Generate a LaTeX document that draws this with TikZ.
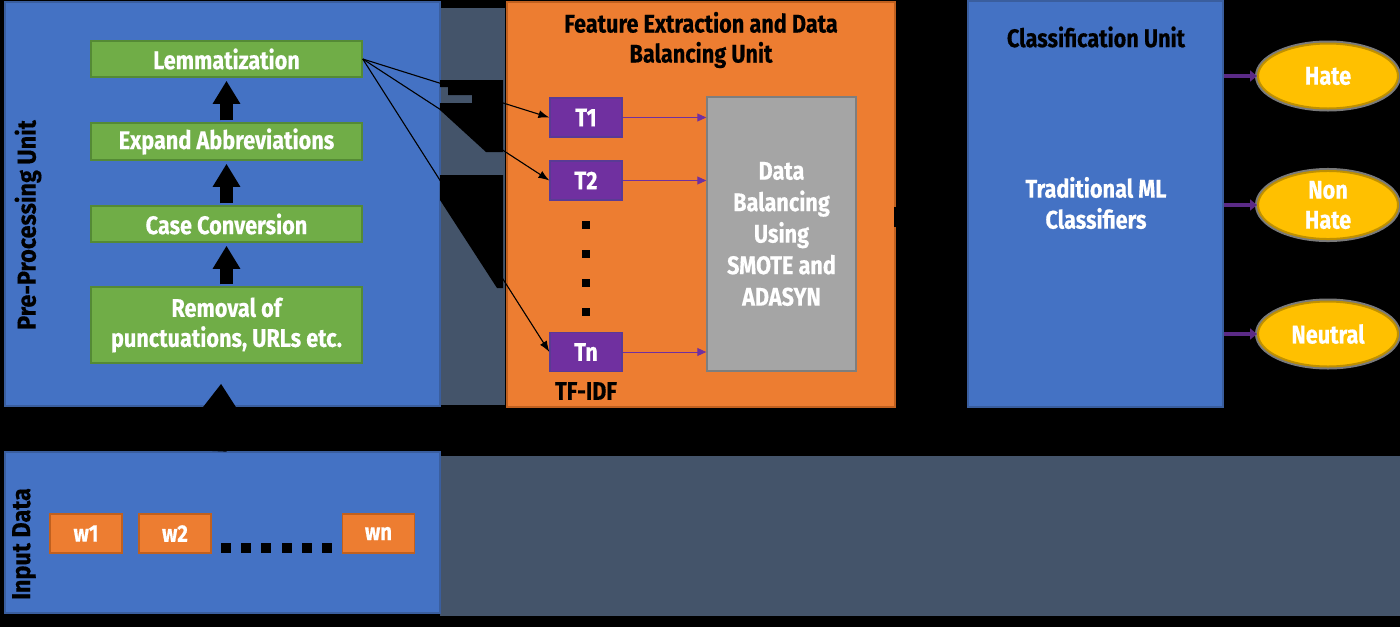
\documentclass[tikz,border=0pt]{standalone}
\usepackage{fontspec}
\setmainfont{Fira Sans}[FakeStretch=0.85, BoldFeatures={FakeBold=0.4}]
\newfontfamily\widefam{Fira Sans}[FakeStretch=0.9, BoldFeatures={FakeBold=0.4}]
\usetikzlibrary{arrows.meta,shapes.geometric,calc}
\definecolor{cblue}{HTML}{4472C4}
\definecolor{cblueb}{HTML}{3A5E9E}
\definecolor{cgreen}{HTML}{70AD47}
\definecolor{cgreenb}{HTML}{548A35}
\definecolor{corange}{HTML}{ED7D31}
\definecolor{coranb}{HTML}{C0601F}
\definecolor{cpurple}{HTML}{7030A0}
\definecolor{cpurpb}{HTML}{5A3A95}
\definecolor{cgray}{HTML}{A5A5A5}
\definecolor{cgrayb}{HTML}{7E7E7E}
\definecolor{cgold}{HTML}{FFC000}
\definecolor{cgoldb}{HTML}{BF9000}
\definecolor{cslate}{HTML}{44546A}
\definecolor{chalo}{HTML}{7A7A7A}
\definecolor{cdpurp}{HTML}{5B2A86}
\begin{document}
\begin{tikzpicture}[x=1pt,y=-1pt,
  lab/.style={font=\fontsize{25.5}{30}\selectfont\bfseries, inner sep=0pt},
  sidelab/.style={font=\widefam\fontsize{26}{30}\selectfont\bfseries, inner sep=0pt, rotate=90},
  ubox/.style={draw=cblueb, line width=1.5pt, fill=cblue, inner sep=0pt},
  obox/.style={draw=coranb, line width=1.5pt, fill=corange, inner sep=0pt},
  gbox/.style={draw=cgreenb, line width=1.5pt, fill=cgreen, text=white, minimum width=271, inner sep=0pt, align=center, font=\fontsize{25.5}{30}\selectfont\bfseries},
  wbox/.style={draw=coranb, line width=1.2pt, fill=corange, text=white, minimum width=72, minimum height=39, inner sep=0pt, font=\fontsize{24}{28}\selectfont\bfseries},
  tbox/.style={draw=cpurpb, line width=1.2pt, fill=cpurple, text=white, minimum width=72, minimum height=39, inner sep=0pt, font=\fontsize{25.5}{30}\selectfont\bfseries},
  graybox/.style={draw=cgrayb, line width=1.5pt, fill=cgray, text=white, inner sep=0pt, align=center, font=\fontsize{25.5}{31.5}\selectfont\bfseries},
  ell/.style={ellipse, draw=cgoldb, line width=2pt, fill=cgold, text=white, inner sep=0pt, align=center, minimum width=140, minimum height=65, font=\fontsize{25.5}{30}\selectfont\bfseries, preaction={draw=chalo, line width=6pt}},
  sqdot/.style={fill=black, inner sep=0pt},
  bigarr/.style={line width=13pt, -{Triangle[length=23pt,width=26pt]}, shorten <=2pt, shorten >=3pt},
  hugearr/.style={line width=17pt, -{Triangle[length=24pt,width=32pt]}},
  thinarr/.style={line width=1.1pt, -{Latex[length=11pt,width=8pt]}},
  parr/.style={draw=cpurple, line width=1pt, -{Triangle[length=9pt,width=8pt]}},
  fparr/.style={draw=cdpurp, line width=4.5pt, -{Triangle[length=7pt,width=11pt]}},
  blackbar/.style={draw=black, line width=20pt}
]
\useasboundingbox (0,0) rectangle (1400,627);
\fill[black] (0,0) rectangle (1400,627);
\fill[cslate] (440,8) rectangle (505,405);
\fill[cslate] (440,456) rectangle (1400,616);

% units
\node[ubox, minimum width=435, minimum height=404] (pre) at (222.5,204) {};
\node[ubox, minimum width=435, minimum height=161] (inp) at (222.5,532.5) {};
\node[obox, minimum width=388, minimum height=405] (fe) at (701,204.5) {};
\node[ubox, minimum width=255, minimum height=406] (cls) at (1095.5,204) {};

% artefact wedges in the gap
\fill[black] (440,80) -- (503,80) -- (503,152) -- (486,152) -- (440,110) -- (440,103) -- (472,103) -- (472,95) -- (448,95) -- (448,87) -- (440,87) -- cycle;
\fill[black] (440,175) -- (503,175) -- (503,288) -- (497,288) -- (440,200) -- cycle;

% pre-processing
\node[sidelab] (prel) at (28,225) {Pre-Processing Unit};
\node[gbox, minimum height=36] (lem) at (226.5,59) {Lemmatization};
\node[gbox, minimum height=37] (exp) at (226.5,141.5) {Expand Abbreviations};
\node[gbox, minimum height=36] (case) at (226.5,224) {Case Conversion};
\node[gbox, minimum height=76] (rem) at (226.5,325) {Removal of\\punctuations, URLs etc.};

% input
\node[sidelab] (inl) at (24,544) {Input Data};
\node[wbox] (w1) at (86,533.5) {w1};
\node[wbox] (w2) at (175,533.5) {w2};
\node[wbox] (wn) at (378.5,533.5) {wn};
\foreach \i/\xx in {1/226,2/246,3/266,4/287,5/307,6/327}
  \node[sqdot, minimum width=10, minimum height=10] (e\i) at (\xx,548) {};

% feature extraction
\node[lab, align=center] (fet) at (701,40) {Feature Extraction and Data\\Balancing Unit};
\node[tbox] (t1) at (586,117.5) {T1};
\node[tbox] (t2) at (586,180.5) {T2};
\node[tbox] (tn) at (586,352) {Tn};
\foreach \i/\yy in {1/225,2/254,3/283,4/312}
  \node[sqdot, minimum width=8, minimum height=8] (d\i) at (586,\yy) {};
\node[lab] (tfidf) at (586,391) {TF-IDF};
\node[graybox, minimum width=149, minimum height=274] (bal) at (781.5,234) {Data\\Balancing\\Using\\SMOTE and\\ADASYN};

% classification
\node[lab] (clt) at (1096,37) {Classification Unit};
\node[lab, text=white, align=center, font=\fontsize{25.5}{31}\selectfont\bfseries] (tml) at (1096,203) {Traditional ML\\Classifiers};
\node[ell] (hate) at (1328,76) {Hate};
\node[ell] (nh) at (1328,205) {Non\\Hate};
\node[ell] (neu) at (1328,334) {Neutral};

% connectors
\draw[bigarr] (exp) -- (lem);
\draw[bigarr] (case) -- (exp);
\draw[bigarr] (rem) -- (case);
\draw[hugearr, shorten >=20pt] ([xshift=-4.5pt]inp.north) -- ([xshift=-4.5pt]rem.south);
\draw[thinarr] (lem.east) -- (t1.west);
\draw[thinarr] (lem.east) -- (t2.west);
\draw[thinarr] (lem.east) -- (tn.west);
\draw[parr] (t1.east) -- (t1.east -| bal.west);
\draw[parr] (t2.east) -- (t2.east -| bal.west);
\draw[parr] (tn.east) -- (tn.east -| bal.west);
\coordinate (bm1) at (894,217);
\coordinate (bm2) at (950,217);
\draw[blackbar] (bm1) -- (bm2);
\draw[fparr] (hate.west -| cls.east) -- (hate.west);
\draw[fparr] (nh.west -| cls.east) -- (nh.west);
\draw[fparr] (neu.west -| cls.east) -- (neu.west);
\end{tikzpicture}
\end{document}
